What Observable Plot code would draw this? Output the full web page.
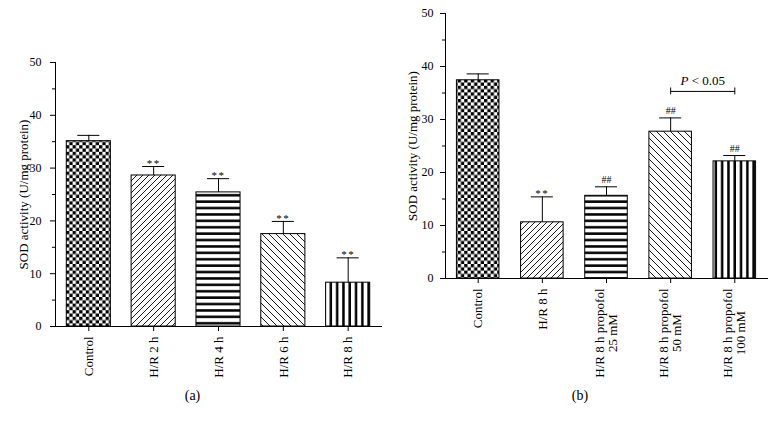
<!DOCTYPE html>
<html><head><meta charset="utf-8">
<script src="https://cdn.jsdelivr.net/npm/d3@7"></script>
<script src="https://cdn.jsdelivr.net/npm/@observablehq/plot@0.6"></script>
<style>
body{margin:0;background:#fff;}
#wrap{display:flex;width:775px;height:422px;font-family:"Liberation Serif",serif;color:#000;}
.cap{text-align:center;font-size:14px;line-height:20px;margin-top:6px;}
svg g[aria-label="x-axis tick label"], svg g[aria-label="x-axis tick label"] text{font-size:13px !important;font-family:"Liberation Serif",serif !important;}
svg g[aria-label="y-axis tick label"], svg g[aria-label="y-axis tick label"] text{font-size:12px !important;font-family:"Liberation Serif",serif !important;}
</style></head><body>
<svg width="0" height="0" style="position:absolute"><defs>
<pattern id="p-check" patternUnits="userSpaceOnUse" width="6.6" height="6.6"><rect width="6.6" height="6.6" fill="#fff"/><rect width="3.3" height="3.3" fill="#000"/><rect x="3.3" y="3.3" width="3.3" height="3.3" fill="#000"/></pattern>
<pattern id="p-fwd" patternUnits="userSpaceOnUse" width="6" height="6"><rect width="6" height="6" fill="#fff"/><path d="M-1,1 L1,-1 M0,6 L6,0 M5,7 L7,5" stroke="#000" stroke-width="0.9"/></pattern>
<pattern id="p-horiz" patternUnits="userSpaceOnUse" width="6" height="6.4"><rect width="6" height="6.4" fill="#fff"/><rect y="2" width="6" height="2.5" fill="#000"/></pattern>
<pattern id="p-back" patternUnits="userSpaceOnUse" width="7" height="7"><rect width="7" height="7" fill="#fff"/><path d="M-1,6 L1,8 M0,0 L7,7 M6,-1 L8,1" stroke="#000" stroke-width="0.9"/></pattern>
<pattern id="p-vert" patternUnits="userSpaceOnUse" width="6.3" height="6"><rect width="6.3" height="6" fill="#fff"/><rect x="2" width="2.5" height="6" fill="#000"/></pattern>
</defs></svg>
<div id="wrap">
  <div id="pa" style="width:385px"></div>
  <div id="pb" style="width:390px"></div>
</div>
<script>
// ---- Data ----
const yTitle = "SOD activity (U/mg protein)";
const majorTicks = [0, 10, 20, 30, 40, 50];
const minorTicks = [5, 15, 25, 35, 45];

const categoriesA = ["Control", "H/R 2 h", "H/R 4 h", "H/R 6 h", "H/R 8 h"];
const valuesA = [35.1, 28.6, 25.4, 17.5, 8.3];
const errorsA = [1.1, 1.7, 2.6, 2.4, 4.7];
const marksA = ["", "**", "**", "**", "**"];

const categoriesB = ["Control", "H/R 8 h", "H/R 8 h propofol\n25 mM", "H/R 8 h propofol\n50 mM", "H/R 8 h propofol\n100 mM"];
const valuesB = [37.4, 10.6, 15.6, 27.7, 22.1];
const errorsB = [1.2, 4.8, 1.7, 2.6, 1.1];
const marksB = ["", "**", "##", "##", "##"];

const bracketFrom = "H/R 8 h propofol\n50 mM";
const bracketTo = "H/R 8 h propofol\n100 mM";
const bracketY = 35.3;
const bracketLabel = "P < 0.05";

const patterns = ["url(#p-check)", "url(#p-fwd)", "url(#p-horiz)", "url(#p-back)", "url(#p-vert)"];

function panel(cfg) {
  const rows = cfg.cats.map((c, i) => ({cat: c, value: cfg.vals[i], err: cfg.errs[i], top: cfg.vals[i] + cfg.errs[i], sig: cfg.sigs[i], pattern: patterns[i]}));
  const base = {
    width: cfg.width, height: 380,
    marginTop: cfg.mt, marginBottom: cfg.mb, marginLeft: cfg.ml, marginRight: cfg.mr,
    style: {fontFamily: "Liberation Serif", fontSize: "12px", color: "#000", background: "#fff"},
    x: {domain: cfg.cats, paddingInner: cfg.pi, paddingOuter: cfg.po, round: false, label: null},
    y: {domain: [0, 50], label: null},
    color: {type: "identity"}
  };
  const capInset = cfg.capInset;
  const marks = [
    Plot.barY(rows, {x: "cat", y: "value", fill: "pattern", stroke: "#000", strokeWidth: 1}),
    Plot.ruleX(rows, {x: "cat", y1: "value", y2: "top", stroke: "#000", strokeWidth: 1}),
    Plot.tickY(rows, {x: "cat", y: "top", insetLeft: capInset, insetRight: capInset, stroke: "#000", strokeWidth: 1}),
    Plot.text(rows.filter(d => d.sig === "**"), {x: "cat", y: "top", text: "sig", lineAnchor: "bottom", dy: 0.5, fontSize: 11}),
    Plot.text(rows.filter(d => d.sig === "##"), {x: "cat", y: "top", text: "sig", lineAnchor: "bottom", dy: -4, fontSize: 10}),
    Plot.frame({anchor: "left", stroke: "#000"}),
    Plot.frame({anchor: "bottom", stroke: "#000"}),
    Plot.axisY({ticks: majorTicks, tickSize: 5, tickPadding: cfg.tickPad, fontSize: 12, label: null}),
    Plot.axisY({ticks: minorTicks, tickSize: 3, tickFormat: () => "", label: null}),
    Plot.axisX({tickSize: 5, tickPadding: 5, tickRotate: -90, fontSize: 13, label: null}),
    Plot.text([yTitle], {frameAnchor: "left", textAnchor: "middle", rotate: -90, dx: cfg.titleDx, fontSize: 13})
  ];
  if (cfg.bracket) {
    const b = cfg.bracket;
    const pre = Plot.plot({...base, marks: [Plot.barY(rows, {x: "cat", y: "value"})]});
    const sx = pre.scale("x");
    const bw = sx.bandwidth || 0;
    const mid = (sx.apply(b.from) + sx.apply(b.to)) / 2 + bw / 2;
    marks.push(
      Plot.link([b], {x1: "from", x2: "to", y1: "y", y2: "y", stroke: "#000", strokeWidth: 1}),
      Plot.ruleX([b.from, b.to], {x: d => d, y1: b.y - 0.65, y2: b.y + 0.65, stroke: "#000", strokeWidth: 1}),
      Plot.text([b], {frameAnchor: "left", textAnchor: "middle", dx: mid - cfg.ml, y: "y", text: "label", lineAnchor: "bottom", dy: -6, fontSize: 13})
    );
  }
  return Plot.plot({...base, marks});
}

const chartA = panel({cats: categoriesA, vals: valuesA, errs: errorsA, sigs: marksA,
  width: 385, mt: 62, mb: 54, ml: 55, mr: 4, pi: 0.32, po: 0.174, tickPad: 9, titleDx: -32, capInset: 11});
const chartB = panel({cats: categoriesB, vals: valuesB, errs: errorsB, sigs: marksB,
  width: 390, mt: 13, mb: 102, ml: 60, mr: 8, pi: 0.337, po: 0.178, tickPad: 7, titleDx: -33, capInset: 10.25,
  bracket: {from: bracketFrom, to: bracketTo, y: bracketY, label: bracketLabel}});

function addCap(el, chart, txt) {
  el.appendChild(chart);
  const c = document.createElement("div");
  c.className = "cap"; c.textContent = txt;
  el.appendChild(c);
}
addCap(document.getElementById("pa"), chartA, "(a)");
addCap(document.getElementById("pb"), chartB, "(b)");

// post-processing of text styling
document.querySelectorAll("svg text").forEach(t => {
  if (t.textContent === "**") t.style.letterSpacing = "1.5px";
  if (t.textContent === bracketLabel) {
    t.textContent = "";
    const ns = "http://www.w3.org/2000/svg";
    const p = document.createElementNS(ns, "tspan");
    p.setAttribute("font-style", "italic"); p.textContent = "P";
    t.appendChild(p);
    t.appendChild(document.createTextNode(" < 0.05"));
  }
  const ts = t.querySelectorAll("tspan");
  if (ts.length === 2) {
    const l1 = ts[0].getComputedTextLength(), l2 = ts[1].getComputedTextLength();
    ts[1].setAttribute("x", -(l1 - l2) / 2);
  }
});
</script>
</body></html>
